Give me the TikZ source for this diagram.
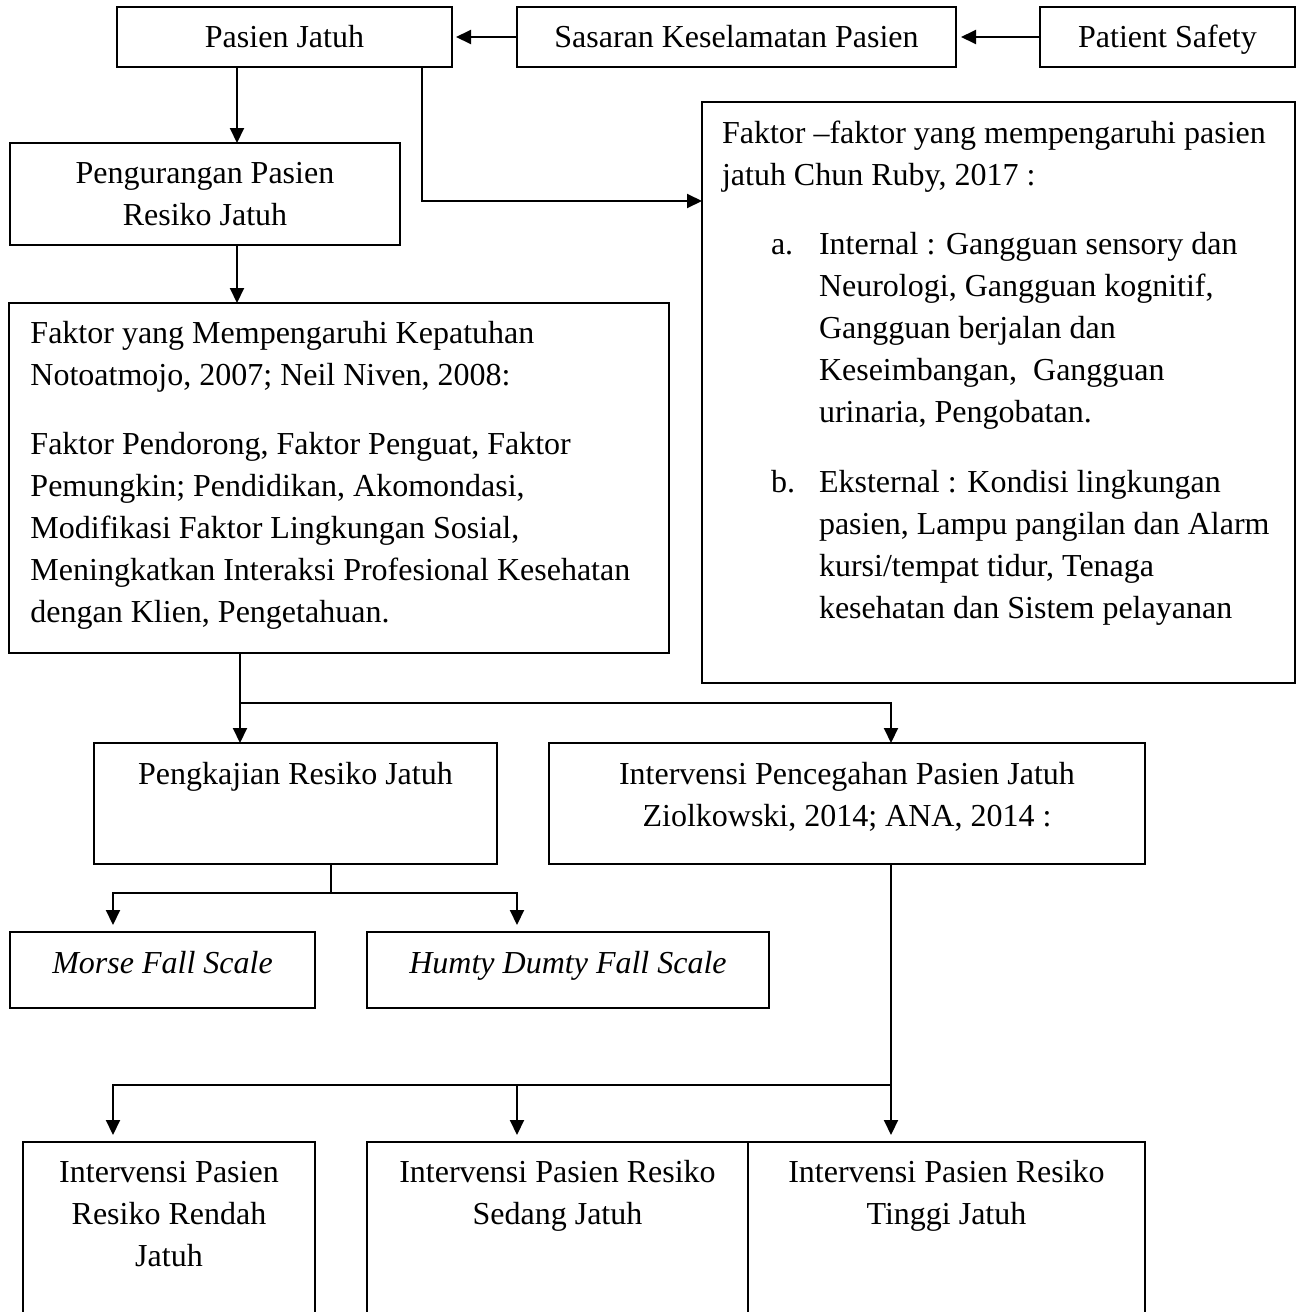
\documentclass[tikz,border=0pt]{standalone}
\usepackage{fontspec}
\setmainfont{Liberation Serif}
\usetikzlibrary{arrows.meta,calc}
\begin{document}
\begin{tikzpicture}[x=0.5pt,y=-0.5pt,font=\fontsize{16pt}{21pt}\selectfont]
\tikzset{
  bx/.style={draw, line width=1pt, anchor=north west, inner sep=0pt, outer sep=0pt},
  ar/.style={line width=1pt, -{Triangle[length=7.5pt,width=7pt]}},
  ln/.style={line width=1pt},
}
\useasboundingbox (0,0) rectangle (1299,1312);
\clip (0,0) rectangle (1299,1312);
\fill[white] (0,0) rectangle (1299,1312);

% top row
\node[bx] (pj) at (117,7) {\parbox[t][30pt][t]{167.5pt}{\centering\vspace*{5.3pt}\strut Pasien Jatuh}};
\node[bx] (sk) at (517,7) {\parbox[t][30pt][t]{219.5pt}{\centering\vspace*{5.3pt}\strut Sasaran Keselamatan Pasien}};
\node[bx] (ps) at (1040,7) {\parbox[t][30pt][t]{127.5pt}{\centering\vspace*{5.3pt}\strut Patient Safety}};

% second level
\node[bx] (pg) at (10,143) {\parbox[t][51pt][t]{195pt}{\centering\vspace*{5.3pt}\strut Pengurangan Pasien\\ Resiko Jatuh}};

\node[bx] (rb) at (702,102) {\parbox[t][290.5pt][t]{296.5pt}{\raggedright\leftskip=10pt\rightskip=0pt plus 1fil
\vspace*{6pt}\strut Faktor \textendash faktor yang mempengaruhi pasien\\
jatuh Chun Ruby, 2017 :\par
\vspace{13.7pt}
{\leftskip=58.5pt\noindent\llap{\makebox[24pt][l]{a.}}Internal : Gangguan sensory dan\\
Neurologi, Gangguan kognitif,\\
Gangguan berjalan dan\\
Keseimbangan,\ \ Gangguan\\
urinaria, Pengobatan.\par}
\vspace{13.7pt}
{\leftskip=58.5pt\noindent\llap{\makebox[24pt][l]{b.}}Eksternal : Kondisi lingkungan\\
pasien, Lampu pangilan dan Alarm\\
kursi/tempat tidur, Tenaga\\
kesehatan dan Sistem pelayanan\par}
}};

\node[bx] (kp) at (9,303) {\parbox[t][175pt][t]{330pt}{\raggedright\leftskip=10.75pt\rightskip=0pt plus 1fil
\vspace*{5.3pt}\strut Faktor yang Mempengaruhi Kepatuhan\\
Notoatmojo, 2007; Neil Niven, 2008:\par
\vspace{13.5pt}
Faktor Pendorong, Faktor Penguat, Faktor\\
Pemungkin; Pendidikan, Akomondasi,\\
Modifikasi Faktor Lingkungan Sosial,\\
Meningkatkan Interaksi Profesional Kesehatan\\
dengan Klien, Pengetahuan.\par}};

% third level
\node[bx] (pk) at (94,743) {\parbox[t][60.5pt][t]{201.5pt}{\centering\vspace*{6.2pt}\strut Pengkajian Resiko Jatuh}};
\node[bx] (ip) at (549,743) {\parbox[t][60.5pt][t]{298pt}{\centering\vspace*{5.8pt}\strut Intervensi Pencegahan Pasien Jatuh\\ Ziolkowski, 2014; ANA, 2014 :}};

% scales
\node[bx] (mf) at (10,932) {\parbox[t][38pt][t]{152.5pt}{\centering\itshape\vspace*{5.8pt}\strut Morse Fall Scale}};
\node[bx] (hd) at (367,932) {\parbox[t][38pt][t]{201pt}{\centering\itshape\vspace*{5.8pt}\strut Humty Dumty Fall Scale}};

% bottom
\node[bx] (rr) at (23,1142) {\parbox[t][99pt][t]{146pt}{\centering\vspace*{5.3pt}\strut Intervensi Pasien\\ Resiko Rendah\\ Jatuh}};
\node[bx] (sj) at (367,1142) {\parbox[t][99pt][t]{190.5pt}{\centering\vspace*{5.3pt}\strut Intervensi Pasien Resiko\\ Sedang Jatuh}};
\node[bx] (tj) at (748,1142) {\parbox[t][99pt][t]{198.5pt}{\centering\vspace*{5.3pt}\strut Intervensi Pasien Resiko\\ Tinggi Jatuh}};

% connectors
\draw[ar, shorten >=2pt] (sk.west) -- (pj.east);
\draw[ar, shorten >=2.5pt] (ps.west) -- (sk.east);
\draw[ar] (237,0 |- pj.south) -- (237,0 |- pg.north);
\coordinate (e1) at (422,201);
\draw[ar] (422,0 |- pj.south) -- (e1) -- (rb.west |- e1);
\draw[ar] (237,0 |- pg.south) -- (237,0 |- kp.north);

\coordinate (j1) at (240,703);
\draw[ar] (240,0 |- kp.south) -- (240,0 |- pk.north);
\draw[ar] (j1) -| (891,0 |- ip.north);

\coordinate (j2) at (331,893);
\draw[ln] (331,0 |- pk.south) -- (j2);
\draw[ar, shorten >=3.5pt] (j2) -| (113,0 |- mf.north);
\draw[ar, shorten >=3.5pt] (j2) -| (517,0 |- hd.north);

\coordinate (j3) at (891,1085);
\draw[ln] (891,0 |- ip.south) -- (j3);
\draw[ar, shorten >=3.5pt] (j3) -- (891,0 |- tj.north);
\draw[ar, shorten >=3.5pt] (j3) -| (113,0 |- rr.north);
\draw[ar, shorten >=3.5pt] (517,0 |- j3) -- (517,0 |- sj.north);
\end{tikzpicture}
\end{document}
